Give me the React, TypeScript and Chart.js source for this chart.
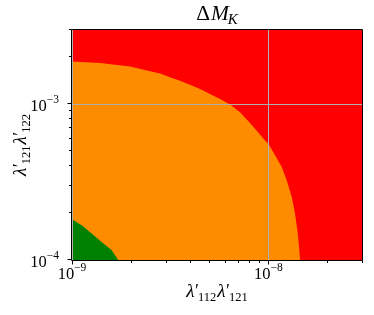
import React, { useEffect, useRef } from 'react';
import { Chart, registerables } from 'chart.js';

Chart.register(...registerables);

// Axis limits
const xMin = 1e-9;
const xMax = 3e-8;
const yMin = 1e-4;
const yMax = 3e-3;

// Ticks
const xMajorTicks = [1e-9, 1e-8];
const xMajorExps = ['−9', '−8'];
const xMinorTicks = [2e-9, 3e-9, 4e-9, 5e-9, 6e-9, 7e-9, 8e-9, 9e-9, 2e-8, 3e-8];
const yMajorTicks = [1e-4, 1e-3];
const yMajorExps = ['−4', '−3'];
const yMinorTicks = [2e-4, 3e-4, 4e-4, 5e-4, 6e-4, 7e-4, 8e-4, 9e-4, 2e-3, 3e-3];

// Region boundaries
const orangeX = [1.0e-9, 1.389e-9, 1.975e-9, 2.497e-9, 2.808e-9, 3.157e-9, 3.55e-9, 3.992e-9, 4.487e-9, 5.047e-9, 5.675e-9, 6.381e-9, 7.175e-9, 8.069e-9, 8.554e-9, 9.62e-9, 1.0e-8, 1.082e-8, 1.17e-8, 1.241e-8, 1.316e-8, 1.368e-8, 1.412e-8, 1.434e-8, 1.45e-8];
const orangeY = [1.884e-3, 1.841e-3, 1.751e-3, 1.631e-3, 1.576e-3, 1.489e-3, 1.418e-3, 1.337e-3, 1.255e-3, 1.166e-3, 1.083e-3, 9.96e-4, 8.89e-4, 7.58e-4, 6.96e-4, 5.86e-4, 5.58e-4, 4.7e-4, 3.95e-4, 3.25e-4, 2.54e-4, 1.99e-4, 1.48e-4, 1.216e-4, 1.0e-4];
const greenX = [1.0e-9, 1.12e-9, 1.26e-9, 1.41e-9, 1.59e-9, 1.72e-9];
const greenY = [1.83e-4, 1.67e-4, 1.48e-4, 1.31e-4, 1.16e-4, 1.0e-4];
const redX = [xMin, xMax];
const redY = [yMax, yMax];

const zip = (xs: number[], ys: number[]) => xs.map((x, i) => ({ x, y: ys[i] }));

const SERIF = '"Liberation Serif", "DejaVu Serif", serif';

type Seg = { t: string; f: string; dy?: number; dx?: number };

function segsWidth(ctx: CanvasRenderingContext2D, segs: Seg[]) {
  let w = 0;
  for (const s of segs) {
    ctx.font = s.f;
    w += ctx.measureText(s.t).width + (s.dx || 0);
  }
  return w;
}

function drawSegs(ctx: CanvasRenderingContext2D, segs: Seg[], x: number, y: number, align: 'left' | 'center' | 'right') {
  const w = segsWidth(ctx, segs);
  let cx = align === 'center' ? x - w / 2 : align === 'right' ? x - w : x;
  ctx.textAlign = 'left';
  ctx.textBaseline = 'alphabetic';
  for (const s of segs) {
    ctx.font = s.f;
    cx += s.dx || 0;
    ctx.fillText(s.t, cx, y + (s.dy || 0));
    cx += ctx.measureText(s.t).width;
  }
}

const tickBase = `16.5px ${SERIF}`;
const tickSup = `11.5px ${SERIF}`;
const lamFont = `italic 19px ${SERIF}`;
const subFont = `12.5px ${SERIF}`;

function lambdaLabel(a: string, b: string): Seg[] {
  return [
    { t: 'λ', f: lamFont },
    { t: '′', f: `18px ${SERIF}`, dx: 0.5 },
    { t: a, f: subFont, dy: 4, dx: -1 },
    { t: 'λ', f: lamFont, dx: 1 },
    { t: '′', f: `18px ${SERIF}`, dx: 0.5 },
    { t: b, f: subFont, dy: 4, dx: -1 },
  ];
}

const mathPlugin = {
  id: 'mathText',
  afterDraw(chart: any) {
    const ctx: CanvasRenderingContext2D = chart.ctx;
    const xs = chart.scales.x;
    const ys = chart.scales.y;
    const { left, right, top, bottom } = chart.chartArea;
    const L = Math.round(left) - 0.5;
    const R = Math.round(right) + 0.5;
    const T = Math.round(top) - 0.5;
    const B = Math.round(bottom) + 0.5;
    ctx.save();
    ctx.strokeStyle = '#000';
    ctx.lineWidth = 1;
    ctx.beginPath();
    ctx.rect(L, T, R - L, B - T);
    ctx.stroke();

    // tick marks
    ctx.beginPath();
    const xt = (v: number, len: number) => {
      const p = Math.round(xs.getPixelForValue(v)) + 0.5;
      ctx.moveTo(p, B);
      ctx.lineTo(p, B + len);
    };
    const yt = (v: number, len: number) => {
      const p = Math.round(ys.getPixelForValue(v)) - 0.5;
      ctx.moveTo(L, p);
      ctx.lineTo(L - len, p);
    };
    xMajorTicks.forEach((v) => xt(v, 4));
    xMinorTicks.forEach((v) => xt(v, 2.5));
    yMajorTicks.forEach((v) => yt(v, 4));
    yMinorTicks.forEach((v) => yt(v, 2.5));
    ctx.stroke();

    ctx.fillStyle = '#000';
    // x tick labels
    xMajorTicks.forEach((v, i) => {
      const p = xs.getPixelForValue(v);
      drawSegs(ctx, [
        { t: '10', f: tickBase },
        { t: xMajorExps[i], f: tickSup, dy: -8 },
      ], p, 279, 'center');
    });
    // y tick labels
    yMajorTicks.forEach((v, i) => {
      const p = ys.getPixelForValue(v);
      drawSegs(ctx, [
        { t: '10', f: tickBase },
        { t: yMajorExps[i], f: tickSup, dy: -8 },
      ], L - 12.5, p + 6.5, 'right');
    });

    const cxp = (left + right) / 2;
    const cyp = (top + bottom) / 2;
    // title
    drawSegs(ctx, [
      { t: 'Δ', f: `21.5px ${SERIF}` },
      { t: 'M', f: `italic 21.5px ${SERIF}`, dx: 1 },
      { t: 'K', f: `italic 15px ${SERIF}`, dy: 3.5, dx: -1 },
    ], cxp, 20, 'center');

    // x label
    drawSegs(ctx, lambdaLabel('112', '121'), cxp, 296.5, 'center');

    // y label
    ctx.translate(26, cyp);
    ctx.rotate(-Math.PI / 2);
    drawSegs(ctx, lambdaLabel('121', '122'), 0, 0, 'center');
    ctx.restore();
  },
};

export default function App() {
  const ref = useRef<HTMLCanvasElement | null>(null);
  useEffect(() => {
    if (!ref.current) return;
    const mkTicks = (maj: number[], min: number[]) =>
      [...maj.map((v) => ({ value: v, major: true })), ...min.map((v) => ({ value: v, major: false }))].sort(
        (a, b) => a.value - b.value
      );
    const gridColor = (c: any) => (c.tick && c.tick.major ? '#b0b0b0' : 'rgba(0,0,0,0)');
    const chart = new Chart(ref.current, {
      type: 'line',
      data: {
        datasets: [
          { label: 'green', data: zip(greenX, greenY), fill: 'start', backgroundColor: '#008000', borderColor: 'rgba(0,0,0,0)', borderWidth: 0, pointRadius: 0 },
          { label: 'orange', data: zip(orangeX, orangeY), fill: 'start', backgroundColor: '#ff8c00', borderColor: 'rgba(0,0,0,0)', borderWidth: 0, pointRadius: 0 },
          { label: 'red', data: zip(redX, redY), fill: 'start', backgroundColor: '#ff0000', borderColor: 'rgba(0,0,0,0)', borderWidth: 0, pointRadius: 0 },
        ],
      },
      options: {
        animation: false,
        responsive: false,
        events: [],
        layout: { padding: { top: 30, right: 12, left: 0, bottom: 0 } },
        plugins: { legend: { display: false }, tooltip: { enabled: false }, title: { display: false } },
        scales: {
          x: {
            type: 'logarithmic',
            min: xMin,
            max: xMax,
            bounds: 'data',
            afterBuildTicks: (s: any) => {
              s.ticks = mkTicks(xMajorTicks, xMinorTicks);
            },
            afterFit: (s: any) => {
              s.height = 55;
            },
            ticks: { display: false },
            grid: { z: 1, drawTicks: false, color: gridColor, lineWidth: 1 },
            border: { display: false },
          },
          y: {
            type: 'logarithmic',
            min: yMin,
            max: yMax,
            bounds: 'data',
            afterBuildTicks: (s: any) => {
              s.ticks = mkTicks(yMajorTicks, yMinorTicks);
            },
            afterFit: (s: any) => {
              s.width = 72;
            },
            ticks: { display: false },
            grid: { z: 1, drawTicks: false, color: gridColor, lineWidth: 1 },
            border: { display: false },
          },
        },
      } as any,
      plugins: [mathPlugin],
    });
    return () => chart.destroy();
  }, []);
  return (
    <div style={{ position: 'fixed', left: 0, top: 0, width: 374, height: 315, background: '#fff' }}>
      <canvas ref={ref} width={374} height={315} style={{ display: 'block' }} />
    </div>
  );
}
